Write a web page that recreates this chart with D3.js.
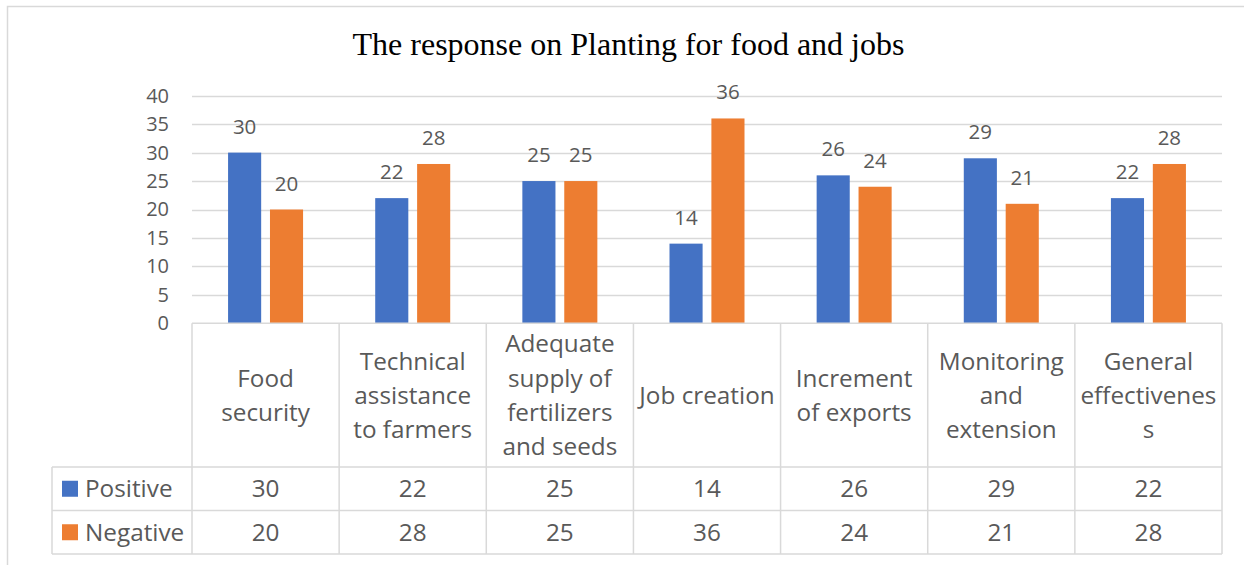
<!DOCTYPE html>
<html>
<head>
  <meta charset="utf-8">
  <script src="https://d3js.org/d3.v7.min.js"></script>
  <style>
    body { margin: 0; background: #fff; }
    text { font-family: "Open Sans", sans-serif; fill: #595959; }
  </style>
</head>
<body>
<div id="chart"></div>
<script>
// data
var categories = ["Food\nsecurity", "Technical\nassistance\nto farmers", "Adequate\nsupply of\nfertilizers\nand seeds",
                  "Job creation", "Increment\nof exports", "Monitoring\nand\nextension", "General\neffectivenes\ns"];
var seriesNames = ["Positive", "Negative"];
var positive = [30, 22, 25, 14, 26, 29, 22];
var negative = [20, 28, 25, 36, 24, 21, 28];
var yTicks = [0, 5, 10, 15, 20, 25, 30, 35, 40];
var colors = ["#4472C4", "#ED7D31"];
var title = "The response on Planting for food and jobs";

var W = 1244, H = 565;
var plotLeft = 192, plotRight = 1222, plotTop = 95.7, plotBottom = 323.3;
var headerBottom = 467, rowH = 43.5, legendLeft = 52;
var grid = "#d9d9d9";
var tableFont = "24.3px";

var svg = d3.select("#chart").append("svg")
  .attr("width", W).attr("height", H);

// outer chart border (right and bottom are cut off in the picture)
svg.append("rect")
  .attr("x", 7.5).attr("y", 6.5)
  .attr("width", W + 10).attr("height", H + 10)
  .attr("fill", "none").attr("stroke", grid).attr("stroke-width", 1.5);

svg.append("text")
  .attr("x", 628.5).attr("y", 55)
  .attr("text-anchor", "middle")
  .style("font-family", "'Liberation Serif', 'Times New Roman', serif")
  .style("font-size", "32px")
  .style("fill", "#000")
  .text(title);

var y = d3.scaleLinear().domain([0, 40]).range([plotBottom, plotTop]);

var x0 = d3.scaleBand().domain(d3.range(categories.length))
  .range([plotLeft, plotRight]).paddingInner(0).paddingOuter(0);

var x1 = d3.scaleBand().domain([0, 1])
  .range([0, 75]).paddingInner(0.21);

// gridlines
svg.append("g").selectAll("line")
  .data(yTicks.filter(function(d) { return d > 0; }))
  .enter().append("line")
    .attr("x1", plotLeft).attr("x2", plotRight)
    .attr("y1", function(d) { return Math.round(y(d)) + 0.5; })
    .attr("y2", function(d) { return Math.round(y(d)) + 0.5; })
    .attr("stroke", grid).attr("stroke-width", 1.3);

// y axis labels
var yAxis = d3.axisLeft(y).tickValues(yTicks).tickSize(0).tickPadding(0);
var gy = svg.append("g")
  .attr("transform", "translate(169,0)")
  .call(yAxis);
gy.select(".domain").remove();
gy.selectAll("text")
  .style("font-size", "20px")
  .style("fill", "#595959")
  .style("font-family", "'Open Sans', sans-serif");

// bars
var series = [positive, negative];
series.forEach(function(vals, s) {
  var g = svg.append("g");
  g.selectAll("rect").data(vals).enter().append("rect")
    .attr("x", function(d, i) { return x0(i) + (x0.bandwidth() - 75) / 2 + x1(s); })
    .attr("y", function(d) { return y(d); })
    .attr("width", x1.bandwidth())
    .attr("height", function(d) { return y(0) - y(d); })
    .attr("fill", colors[s]);
  g.selectAll("text").data(vals).enter().append("text")
    .attr("x", function(d, i) { return x0(i) + (x0.bandwidth() - 75) / 2 + x1(s) + x1.bandwidth() / 2; })
    .attr("y", function(d) { return y(d) - 19; })
    .attr("text-anchor", "middle")
    .style("font-size", "20.5px")
    .text(function(d) { return d; });
});

// data table
var tbl = svg.append("g").attr("stroke", grid).attr("stroke-width", 1.5);
var rowYs = [headerBottom, headerBottom + rowH, headerBottom + 2 * rowH];
// top line of table (axis line)
tbl.append("line").attr("x1", plotLeft).attr("x2", plotRight)
  .attr("y1", plotBottom).attr("y2", plotBottom);
rowYs.forEach(function(ry) {
  tbl.append("line").attr("x1", legendLeft).attr("x2", plotRight)
    .attr("y1", ry).attr("y2", ry);
});
d3.range(categories.length + 1).forEach(function(i) {
  var xx = i < categories.length ? x0(i) : plotRight;
  tbl.append("line").attr("x1", xx).attr("x2", xx)
    .attr("y1", plotBottom).attr("y2", rowYs[2]);
});
tbl.append("line").attr("x1", legendLeft).attr("x2", legendLeft)
  .attr("y1", rowYs[0]).attr("y2", rowYs[2]);

// header labels
var lineH = 34.3;
categories.forEach(function(c, i) {
  var lines = c.split("\n");
  var cy = (plotBottom + headerBottom) / 2;
  var t = svg.append("text")
    .attr("text-anchor", "middle")
    .style("font-size", tableFont);
  lines.forEach(function(l, k) {
    t.append("tspan")
      .attr("x", x0(i) + x0.bandwidth() / 2)
      .attr("y", cy + (k - (lines.length - 1) / 2) * lineH)
      .attr("dy", "0.36em")
      .text(l);
  });
});

// value rows + legend keys
series.forEach(function(vals, s) {
  var cy = rowYs[s] + rowH / 2;
  svg.append("rect")
    .attr("x", 62).attr("y", cy - 8)
    .attr("width", 16).attr("height", 16)
    .attr("fill", colors[s]);
  svg.append("text")
    .attr("x", 85).attr("y", cy).attr("dy", "0.36em")
    .style("font-size", tableFont)
    .text(seriesNames[s]);
  svg.append("g").selectAll("text").data(vals).enter().append("text")
    .attr("x", function(d, i) { return x0(i) + x0.bandwidth() / 2; })
    .attr("y", cy).attr("dy", "0.36em")
    .attr("text-anchor", "middle")
    .style("font-size", tableFont)
    .text(function(d) { return d; });
});
</script>
</body>
</html>
